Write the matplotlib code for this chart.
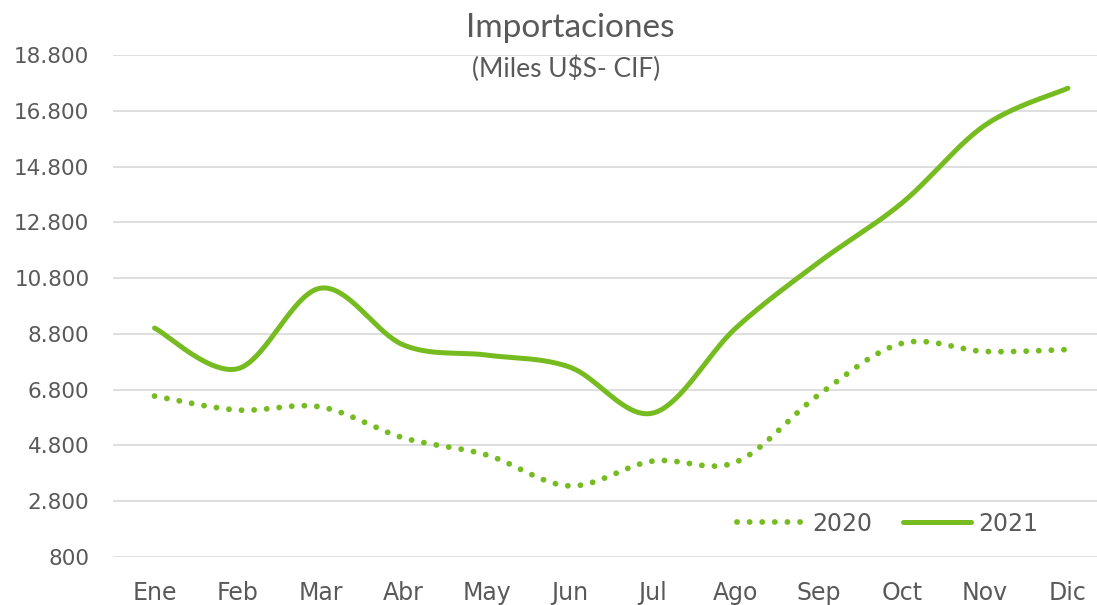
import numpy as np
import matplotlib
matplotlib.use('Agg')
import matplotlib.pyplot as plt

MONTHS = ['Ene', 'Feb', 'Mar', 'Abr', 'May', 'Jun', 'Jul', 'Ago', 'Sep', 'Oct', 'Nov', 'Dic']
IMP_2020 = [6570, 6070, 6180, 5070, 4460, 3350, 4240, 4200, 6620, 8460, 8170, 8240]
IMP_2021 = [9010, 7550, 10440, 8400, 8040, 7610, 5960, 9010, 11370, 13490, 16280, 17610]
Y_TICKS = list(range(800, 18801, 2000))

GREEN = '#76BC21'
GRAY = '#595959'


def smooth(xs, ys, n=40):
    # Excel-style smoothed line: cubic Bezier with Catmull-Rom control points
    p = np.column_stack([xs, ys]).astype(float)
    p = np.vstack([p[0], p, p[-1]])
    t = np.linspace(0, 1, n)[:, None]
    out = []
    for i in range(1, len(p) - 2):
        p0, p3 = p[i], p[i + 1]
        p1 = p0 + (p[i + 1] - p[i - 1]) / 6
        p2 = p3 - (p[i + 2] - p[i]) / 6
        seg = ((1 - t) ** 3) * p0 + 3 * ((1 - t) ** 2) * t * p1 + 3 * (1 - t) * t ** 2 * p2 + t ** 3 * p3
        out.append(seg if i == 1 else seg[1:])
    out = np.vstack(out)
    return out[:, 0], out[:, 1]


def fmt(v):
    return f'{v:,}'.replace(',', '.')


fig = plt.figure(figsize=(10.97, 6.05), dpi=100)
ax = fig.add_axes([113 / 1097, 1 - 557 / 605, (1097 - 113) / 1097, (557 - 55) / 605])

x = np.arange(len(MONTHS))
sx, sy = smooth(x, IMP_2020)
ax.plot(sx, sy, color=GREEN, lw=4.2, linestyle=(0, (0.01, 2.15)),
        dash_capstyle='round', label='2020')
sx, sy = smooth(x, IMP_2021)
ax.plot(sx, sy, color=GREEN, lw=3.6, solid_capstyle='round', label='2021')

ax.set_xlim(-0.5, 11.35)
ax.set_ylim(800, 18800)
ax.set_yticks(Y_TICKS)
ax.set_yticklabels([fmt(v) for v in Y_TICKS])
ax.set_xticks(x)
ax.set_xticklabels(MONTHS)
ax.grid(axis='y', color='#D9D9D9', lw=1.2)
ax.set_axisbelow(True)
for s in ax.spines.values():
    s.set_visible(False)
ax.tick_params(length=0, labelcolor=GRAY)
ax.tick_params(axis='y', pad=17, labelsize=15.5)
ax.tick_params(axis='x', pad=17, labelsize=17)
for lab in ax.get_xticklabels() + ax.get_yticklabels():
    lab.set_family('DejaVu Sans')

fig.text(570 / 1097, 1 - 28 / 605, 'Importaciones', ha='center', va='center',
         fontsize=24, color=GRAY, family='Lato')
fig.text(566 / 1097, 1 - 69 / 605, '(Miles U$S- CIF)', ha='center', va='center',
         fontsize=19, color=GRAY, family='Lato')

leg = ax.legend(loc='lower right', bbox_to_anchor=(0.962, 0.0), ncol=2, frameon=False,
                fontsize=17, handlelength=2.9, handletextpad=0.3, columnspacing=1.3)
for t in leg.get_texts():
    t.set_color(GRAY)
    t.set_family('DejaVu Sans')

fig.savefig('out.png', dpi=100)
